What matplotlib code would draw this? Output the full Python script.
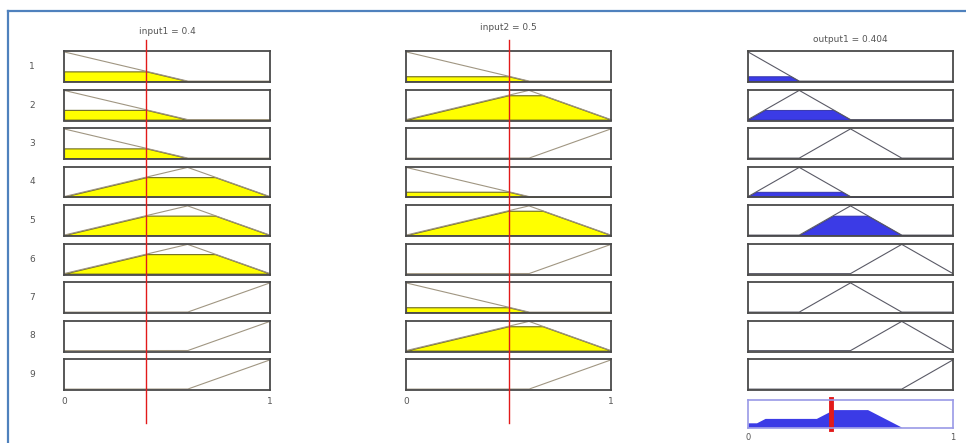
import numpy as np
import matplotlib
matplotlib.use("Agg")
import matplotlib.pyplot as plt
from matplotlib.lines import Line2D

# Input values shown on the red lines
input_names = ["input1", "input2"]
input_values = [0.4, 0.5]
output_name = "output1"
output_value = 0.404

# Triangular membership functions (a, b, c)
in_mfs = {
    "low": [-0.6, 0.0, 0.6],
    "mid": [0.0, 0.6, 1.0],
    "high": [0.6, 1.0, 1.4],
}
out_mfs = {
    "vlow": [-0.25, 0.0, 0.25],
    "low": [0.0, 0.25, 0.5],
    "mid": [0.25, 0.5, 0.75],
    "high": [0.5, 0.75, 1.0],
    "vhigh": [0.75, 1.0, 1.25],
}

# Rule base (9 rules)
rule_in1 = ["low", "low", "low", "mid", "mid", "mid", "high", "high", "high"]
rule_in2 = ["low", "mid", "high", "low", "mid", "high", "low", "mid", "high"]
rule_out = ["vlow", "low", "mid", "low", "mid", "high", "mid", "high", "vhigh"]

W, H = 966, 443
YELLOW = "#ffff00"
BLUE = "#3b3be6"
RED = "#e21a1a"
BOX = "#4a4a4a"
TXT = "#555555"


def trimf(x, p):
    return np.interp(x, p, [0, 1, 0], left=0, right=0)


def px_axes(fig, x0, y0, x1, y1):
    # pixel box (top-left origin) -> figure axes
    return fig.add_axes([x0 / W, 1 - y1 / H, (x1 - x0) / W, (y1 - y0) / H])


def style_box(ax, color=BOX, lw=1.3):
    ax.set_xlim(0, 1)
    ax.set_ylim(-0.03, 1.03)
    ax.set_xticks([])
    ax.set_yticks([])
    for s in ax.spines.values():
        s.set_color(color)
        s.set_linewidth(lw)


fig = plt.figure(figsize=(W / 100, H / 100), dpi=100)

x = np.linspace(0, 1, 801)
col_x = [(64, 270), (406, 611)]
out_x = (748, 953)
row_top = 51
row_pitch = 38.5
row_h = 31

firing = []
for r in range(9):
    degs = [trimf(input_values[0], in_mfs[rule_in1[r]]),
            trimf(input_values[1], in_mfs[rule_in2[r]])]
    firing.append(min(degs))

    y0 = row_top + r * row_pitch
    fig.text(32 / W, 1 - (y0 + row_h / 2) / H, str(r + 1), fontsize=6.5,
             color=TXT, ha="center", va="center")

    for c, (x0, x1) in enumerate(col_x):
        ax = px_axes(fig, x0, y0, x1, y0 + row_h)
        style_box(ax)
        mf = in_mfs[[rule_in1, rule_in2][c][r]]
        mu = trimf(x, mf)
        if degs[c] > 0:
            clip = np.minimum(mu, degs[c])
            ax.fill_between(x, 0, clip, color=YELLOW, edgecolor="#6d6a22", lw=0.8)
        ax.plot(x, mu, color="#a09682", lw=0.8)

    ax = px_axes(fig, out_x[0], y0, out_x[1], y0 + row_h)
    style_box(ax)
    mu = trimf(x, out_mfs[rule_out[r]])
    if firing[-1] > 0:
        ax.fill_between(x, 0, np.minimum(mu, firing[-1]), color=BLUE,
                        edgecolor="#2a2aa0", lw=0.6)
    ax.plot(x, mu, color="#5a5a66", lw=0.8)

# aggregated output
agg = np.zeros_like(x)
for r in range(9):
    agg = np.maximum(agg, np.minimum(trimf(x, out_mfs[rule_out[r]]), firing[r]))
ax = px_axes(fig, out_x[0], 400, out_x[1], 428)
style_box(ax, color="#9a9ae6", lw=1.2)
ax.fill_between(x, 0, agg, color=BLUE, lw=0)
ax.axvline(output_value, ymin=-0.03, ymax=1.05, color=RED, lw=3.5, clip_on=False)

# red input lines through each column
for c, (x0, x1) in enumerate(col_x):
    xf = (x0 + (x1 - x0) * input_values[c]) / W
    fig.add_artist(Line2D([xf, xf], [1 - 40 / H, 1 - 423 / H],
                          transform=fig.transFigure, color=RED, lw=1.0))
    fig.text(x0 / W, 1 - 401 / H, "0", fontsize=6.5, color=TXT, ha="center", va="center")
    fig.text(x1 / W, 1 - 401 / H, "1", fontsize=6.5, color=TXT, ha="center", va="center")

fig.text(out_x[0] / W, 1 - 438 / H, "0", fontsize=6, color=TXT, ha="center", va="center")
fig.text(out_x[1] / W, 1 - 438 / H, "1", fontsize=6, color=TXT, ha="center", va="center")

# column titles
fig.text(167 / W, 1 - 31 / H, f"{input_names[0]} = {input_values[0]}",
         fontsize=6.5, color=TXT, ha="center", va="center")
fig.text(508 / W, 1 - 28 / H, f"{input_names[1]} = {input_values[1]}",
         fontsize=6.5, color=TXT, ha="center", va="center")
fig.text(850 / W, 1 - 39 / H, f"{output_name} = {output_value}",
         fontsize=6.5, color=TXT, ha="center", va="center")

# blue page frame
fig.add_artist(Line2D([8 / W, 1], [1 - 11 / H, 1 - 11 / H],
                      transform=fig.transFigure, color="#4f81bd", lw=1.6))
fig.add_artist(Line2D([8 / W, 8 / W], [0, 1 - 11 / H],
                      transform=fig.transFigure, color="#4f81bd", lw=1.6))

fig.savefig("out.png", dpi=100)
